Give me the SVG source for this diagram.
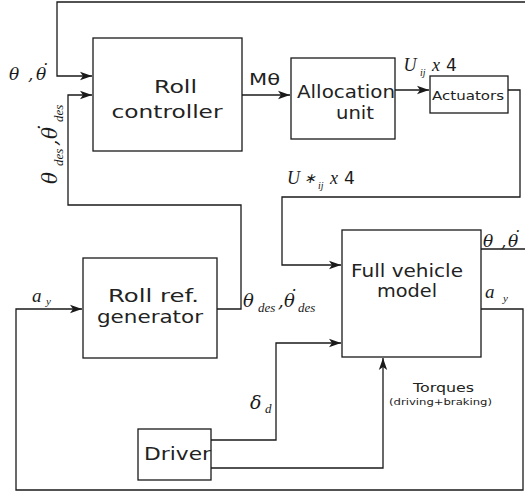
<svg xmlns="http://www.w3.org/2000/svg" width="525" height="493" viewBox="0 0 525 493">
<style>
.box{fill:#fff;stroke:#1a1a1a;stroke-width:1.3}
.ln{fill:none;stroke:#1a1a1a;stroke-width:1.3}
.t{font-family:"DejaVu Sans",sans-serif;font-weight:normal;fill:#222}
.m{font-family:"Liberation Serif",serif;font-style:italic;fill:#1a1a1a}
.g{font-family:"DejaVu Serif",serif;font-style:italic;fill:#1a1a1a}
.n{font-family:"DejaVu Sans",sans-serif;fill:#1a1a1a}
</style>
<defs>
<marker id="ah" markerUnits="userSpaceOnUse" markerWidth="14" markerHeight="10" refX="12" refY="5" orient="auto">
<path d="M0,0.8 L12,5 L0,9.2 L3,5 z" fill="#1a1a1a"/>
</marker>
</defs>
<rect width="525" height="493" fill="#fff"/>
<g id="connectors">
<path class="ln" d="M525,2 H57 V76 H92" marker-end="url(#ah)"/>
<path class="ln" d="M481,249 H525"/>
<path class="ln" d="M217,309 H241 V205 H68 V95 H92" marker-end="url(#ah)"/>
<path class="ln" d="M242,95 H290" marker-end="url(#ah)"/>
<path class="ln" d="M395,90 H429" marker-end="url(#ah)"/>
<path class="ln" d="M508,90 H520 V197 H282 V265 H341" marker-end="url(#ah)"/>
<path class="ln" d="M478,309 H523 V490 H16 V309 H82" marker-end="url(#ah)"/>
<path class="ln" d="M211,440 H276 V343 H341" marker-end="url(#ah)"/>
<path class="ln" d="M211,468 H383 V358" marker-end="url(#ah)"/>
</g>
<g id="roll-controller">
<rect class="box" x="93" y="38" width="149" height="113"/>
<text class="t" x="154" y="93" font-size="18.5" textLength="43" lengthAdjust="spacingAndGlyphs">Roll</text>
<text class="t" x="111.5" y="118" font-size="18.5" textLength="111" lengthAdjust="spacingAndGlyphs">controller</text>
</g>
<g id="allocation-unit">
<rect class="box" x="291" y="58" width="104" height="81"/>
<text class="t" x="297" y="98" font-size="17" textLength="98" lengthAdjust="spacingAndGlyphs">Allocation</text>
<text class="t" x="336" y="119" font-size="17" textLength="38" lengthAdjust="spacingAndGlyphs">unit</text>
</g>
<g id="actuators">
<rect class="box" x="430" y="76" width="78" height="37"/>
<text class="t" x="432" y="99.5" font-size="12.5" textLength="72" lengthAdjust="spacingAndGlyphs">Actuators</text>
</g>
<g id="full-vehicle-model">
<rect class="box" x="342" y="230" width="139" height="127"/>
<text class="t" x="351" y="277" font-size="17" textLength="112" lengthAdjust="spacingAndGlyphs">Full vehicle</text>
<text class="t" x="377" y="297" font-size="17" textLength="60" lengthAdjust="spacingAndGlyphs">model</text>
</g>
<g id="roll-ref-generator">
<rect class="box" x="83" y="258" width="134" height="100"/>
<text class="t" x="108" y="302" font-size="18" textLength="91" lengthAdjust="spacingAndGlyphs">Roll ref.</text>
<text class="t" x="97" y="323" font-size="18" textLength="106" lengthAdjust="spacingAndGlyphs">generator</text>
</g>
<g id="driver">
<rect class="box" x="138" y="429" width="73" height="51"/>
<text class="t" x="144" y="459.5" font-size="18" textLength="67" lengthAdjust="spacingAndGlyphs">Driver</text>
</g>
<g id="labels">
<text class="t" x="249" y="85" font-size="16" textLength="31" lengthAdjust="spacingAndGlyphs">Mθ</text>
<text class="t" x="413" y="392" font-size="11.5" textLength="61" lengthAdjust="spacingAndGlyphs">Torques</text>
<text class="t" x="389" y="404.5" font-size="8.5" textLength="103" lengthAdjust="spacingAndGlyphs">(driving+braking)</text>
<text class="g" font-size="17"><tspan x="9" y="80">θ</tspan><tspan x="28" y="80">,</tspan><tspan x="36" y="80">θ</tspan><tspan x="40" y="76">˙</tspan></text>
<text class="g" font-size="20" transform="translate(57,184) rotate(-90)"><tspan x="0" y="0">θ</tspan><tspan class="m" x="18" y="6" font-size="13">des</tspan><tspan x="38" y="0">,</tspan><tspan x="45" y="0">θ</tspan><tspan x="50" y="-4">˙</tspan><tspan class="m" x="62" y="6" font-size="13">des</tspan></text>
<text class="m" font-size="18"><tspan x="403.5" y="71">U</tspan><tspan x="420" y="76" font-size="10">ij</tspan><tspan x="432" y="71">x</tspan></text>
<text class="n" x="446" y="71" font-size="17">4</text>
<text class="m" font-size="18"><tspan x="287" y="184">U</tspan><tspan x="304" y="183" font-size="14">∗</tspan><tspan x="318" y="189" font-size="10">ij</tspan><tspan x="330" y="184">x</tspan></text>
<text class="n" x="344" y="184" font-size="17">4</text>
<text class="g" font-size="17"><tspan x="483" y="247">θ</tspan><tspan x="501" y="247">,</tspan><tspan x="508" y="247">θ</tspan><tspan x="512" y="243">˙</tspan></text>
<text class="m" font-size="19"><tspan x="485" y="298">a</tspan><tspan x="503" y="302" font-size="11">y</tspan></text>
<text class="m" font-size="19"><tspan x="32" y="302">a</tspan><tspan x="46" y="305" font-size="11">y</tspan></text>
<text class="g" font-size="18"><tspan x="243" y="307">θ</tspan><tspan class="m" x="258" y="312" font-size="13">des</tspan><tspan x="278" y="307">,</tspan><tspan x="284" y="307">θ</tspan><tspan x="288" y="303">˙</tspan><tspan class="m" x="298" y="312" font-size="13">des</tspan></text>
<text class="g" font-size="19"><tspan x="250" y="409">δ</tspan><tspan class="m" x="265" y="413" font-size="13">d</tspan></text>
</g>
</svg>
